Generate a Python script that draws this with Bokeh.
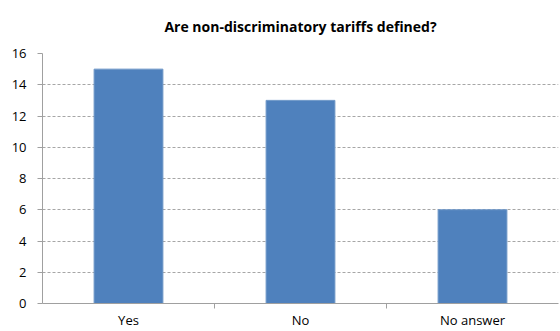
from bokeh.plotting import figure
from bokeh.models import FixedTicker, Range1d, ColumnDataSource
from bokeh.embed import file_html
from bokeh.resources import INLINE

categories = ["Yes", "No", "No answer"]
counts = [15, 13, 6]
y_ticks = [0, 2, 4, 6, 8, 10, 12, 14, 16]

xpos = [i + 0.5 for i in range(len(categories))]
src = ColumnDataSource(dict(x=xpos, top=counts, cat=categories))

p = figure(width=560, height=331, output_backend="svg", toolbar_location=None,
           x_range=Range1d(0, len(categories)), y_range=Range1d(0, 16),
           min_border_left=42, min_border_right=2, min_border_top=53, min_border_bottom=26)

p.title.text = "Are non-discriminatory tariffs defined?"
p.title.align = "center"
p.title.vertical_align = "top"
p.title.text_font = "Open Sans"
p.title.text_font_size = "14px"
p.title.text_font_style = "bold"
p.title.text_color = "#000000"
p.title.standoff = 31

p.vbar(x="x", top="top", width=0.4, source=src, fill_color="#4F81BD", line_color="#6E97C8", line_width=1)

p.xaxis.ticker = FixedTicker(ticks=xpos, minor_ticks=[1, 2])
p.xaxis.major_label_overrides = {x: c for x, c in zip(xpos, categories)}
p.xaxis.major_tick_out = 0
p.xaxis.major_tick_in = 0
p.xaxis.minor_tick_out = 5
p.xaxis.minor_tick_in = 0
p.xaxis.minor_tick_line_color = "#a0a0a0"
p.xaxis.axis_line_color = "#a0a0a0"
p.xaxis.major_label_text_font = "Open Sans"
p.xaxis.major_label_text_font_size = "13px"
p.xaxis.major_label_text_color = "#000000"
p.xaxis.major_label_standoff = 2

p.yaxis.ticker = FixedTicker(ticks=y_ticks)
p.yaxis.major_tick_out = 5
p.yaxis.major_tick_in = 0
p.yaxis.minor_tick_line_color = None
p.yaxis.major_tick_line_color = "#a0a0a0"
p.yaxis.axis_line_color = "#a0a0a0"
p.yaxis.major_label_text_font = "Open Sans"
p.yaxis.major_label_text_font_size = "13px"
p.yaxis.major_label_text_color = "#000000"
p.yaxis.major_label_standoff = 11

p.xgrid.grid_line_color = None
p.ygrid.grid_line_color = "#a6a6a6"
p.ygrid.grid_line_dash = "3 2"
p.ygrid.grid_line_width = 1

p.outline_line_color = None

open("out.html", "w").write(file_html(p, INLINE))
